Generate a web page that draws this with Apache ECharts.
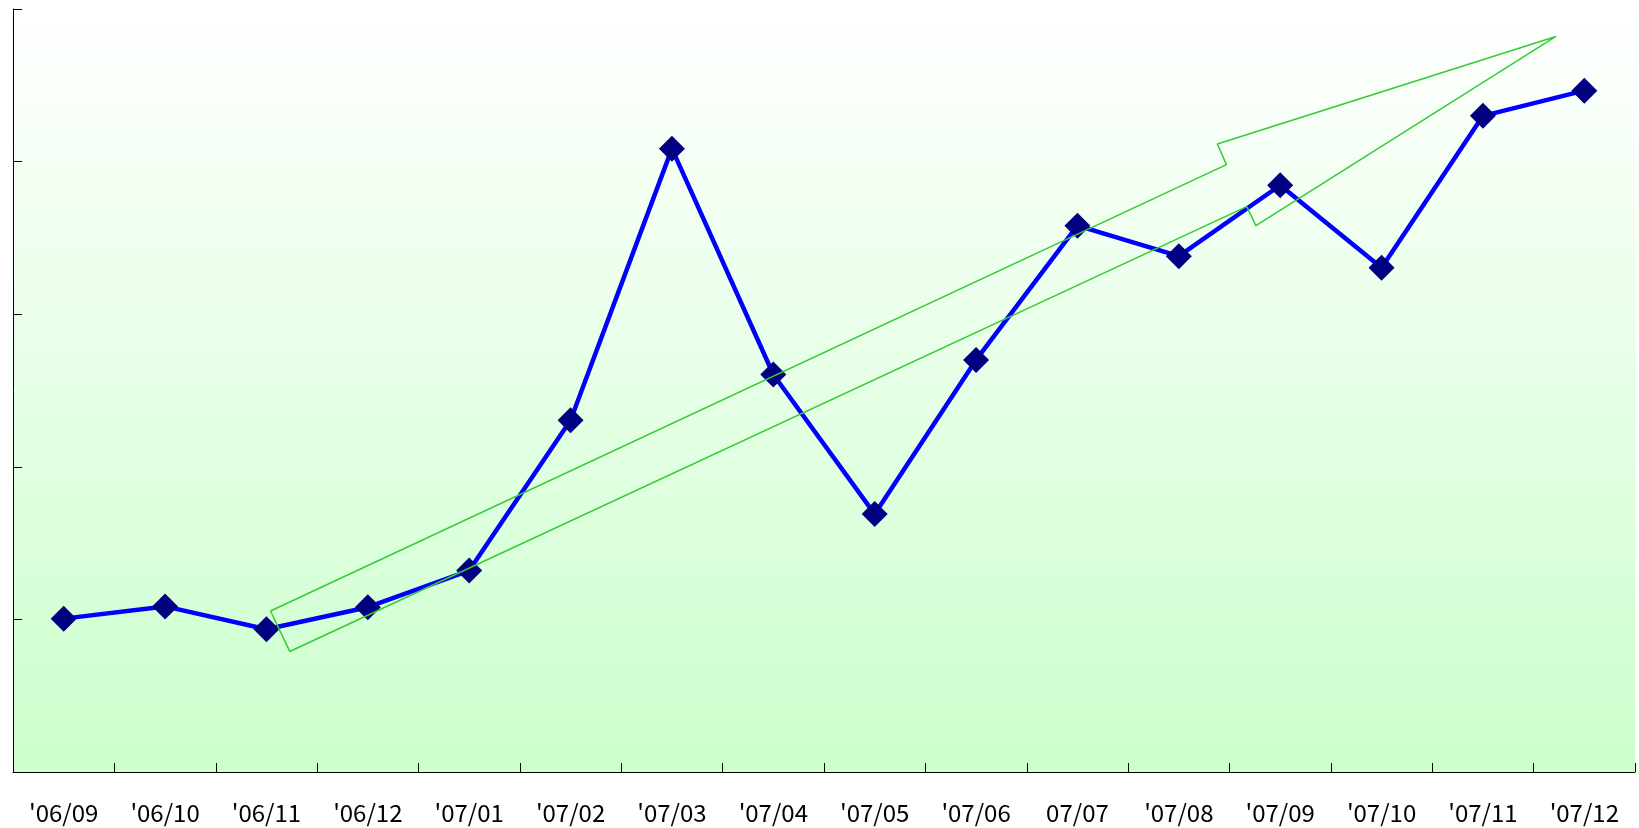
<!DOCTYPE html>
<html>
<head>
<meta charset="utf-8">
<script src="https://cdn.jsdelivr.net/npm/echarts@6/dist/echarts.min.js"></script>
<style>
html,body{margin:0;padding:0;background:#fff;}
#chart{width:1639px;height:828px;}
</style>
</head>
<body>
<div id="chart"></div>
<script>
const categories = ["'06/09","'06/10","'06/11","'06/12","'07/01","'07/02","'07/03","'07/04","'07/05","'07/06","07/07","'07/08","'07/09","'07/10","'07/11","'07/12"];
const values = [20.1, 21.7, 18.7, 21.6, 26.4, 46.1, 81.7, 52.1, 33.8, 54.0, 71.6, 67.6, 76.9, 66.1, 86.0, 89.3];
// trend arrow outline, in (category position, value) units
const arrowX = [2.04, 11.47, 11.38, 14.72, 11.76, 11.67, 2.23, 2.04];
const arrowY = [21.1, 79.6, 82.3, 96.4, 71.6, 74.1, 15.8, 21.1];

const chart = echarts.init(document.getElementById('chart'), null, {renderer: 'canvas'});
chart.setOption({
  animation: false,
  grid: {
    left: 13, right: 4, top: 9, bottom: 56,
    show: true,
    borderWidth: 0,
    backgroundColor: new echarts.graphic.LinearGradient(0, 0, 0, 1, [
      {offset: 0, color: '#ffffff'},
      {offset: 1, color: '#ccffcc'}
    ])
  },
  xAxis: [{
    type: 'category',
    data: categories,
    boundaryGap: true,
    position: 'bottom',
    axisLine: {show: true, onZero: false, lineStyle: {color: '#000', width: 1}},
    axisTick: {show: true, inside: true, length: 9, interval: 0, lineStyle: {color: '#000', width: 1}},
    axisLabel: {
      interval: 0, margin: 29, color: '#000', fontSize: 24,
      fontFamily: '"Noto Sans CJK JP", sans-serif'
    },
    splitLine: {show: false}
  }, {
    type: 'value', min: -0.5, max: 15.5, show: false, position: 'top'
  }],
  yAxis: {
    type: 'value', min: 0, max: 100, interval: 20,
    position: 'left',
    axisLine: {show: true, onZero: false, lineStyle: {color: '#000', width: 1}},
    axisTick: {show: true, inside: true, length: 9, lineStyle: {color: '#000'}},
    axisLabel: {show: false},
    splitLine: {show: false}
  },
  series: [{
    type: 'line',
    data: values,
    xAxisIndex: 0,
    symbol: 'diamond',
    symbolSize: 26,
    lineStyle: {color: '#0000ff', width: 4.5},
    itemStyle: {color: '#000080'},
    z: 3
  }, {
    type: 'line',
    xAxisIndex: 1,
    data: arrowX.map((x, i) => [x, arrowY[i]]),
    symbol: 'none',
    lineStyle: {color: '#33cc33', width: 1.5},
    z: 4,
    silent: true
  }]
});
</script>
</body>
</html>
